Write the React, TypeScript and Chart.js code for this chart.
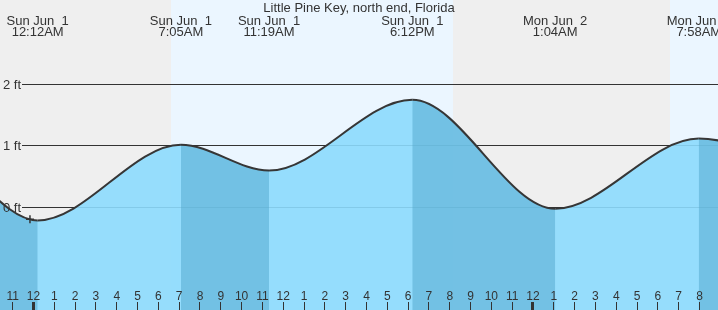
import React, { useEffect, useRef } from 'react';
import { Chart, registerables } from 'chart.js';

Chart.register(...registerables);

// ---- data (hours since Sun Jun 1 00:00 local time) ----
const TITLE = 'Little Pine Key, north end, Florida';

const tideHours = [-11.6, -5.3, 0.2, 7.083, 11.317, 18.2, 25.067, 31.967, 38.3];
const tideFeet = [0.35, 1.0, -0.21, 1.02, 0.6, 1.75, -0.02, 1.12, 0.4];

const extremeHours = [0.2, 7.083, 11.317, 18.2, 25.067, 31.967];
const extremeDays = ['Sun Jun  1', 'Sun Jun  1', 'Sun Jun  1', 'Sun Jun  1', 'Mon Jun  2', 'Mon Jun  2'];
const extremeTimes = ['12:12AM', '7:05AM', '11:19AM', '6:12PM', '1:04AM', '7:58AM'];

const dayStarts = [6.61, 30.59];
const dayEnds = [20.16, 44];

const tickHours = [-1, 0, 1, 2, 3, 4, 5, 6, 7, 8, 9, 10, 11, 12, 13, 14, 15, 16, 17, 18, 19, 20, 21, 22, 23, 24, 25, 26, 27, 28, 29, 30, 31, 32];
const tickLabels = ['11', '12', '1', '2', '3', '4', '5', '6', '7', '8', '9', '10', '11', '12', '1', '2', '3', '4', '5', '6', '7', '8', '9', '10', '11', '12', '1', '2', '3', '4', '5', '6', '7', '8'];
const midnightHours = [0, 24];

const levelFeet = [0, 1, 2];
const levelLabels = ['0 ft', '1 ft', '2 ft'];

const nowHours = [-0.17];
const nowFeet = [-0.19];

const X_MIN = -1.61;
const X_MAX = 32.89;
const Y_MIN = -1.667;
const Y_MAX = 3.374;

// ---- styles ----
const NIGHT = '#efefef';
const DAY = '#ebf6ff';
const LIGHT_FILL = 'rgba(140,218,253,0.9)';
const FALLING_OVERLAY = 'rgba(80,166,204,0.5)';
const INK = '#333333';
const FONT = '"Liberation Sans", Arial, sans-serif';

const paintPlugin = {
  id: 'tidePaint',
  beforeDraw(chart: any) {
    const { ctx, chartArea, scales } = chart;
    const x = scales.x;
    ctx.save();
    ctx.fillStyle = NIGHT;
    ctx.fillRect(0, 0, chart.width, chart.height);
    ctx.fillStyle = DAY;
    dayStarts.forEach((s, i) => {
      const x0 = Math.round(x.getPixelForValue(s));
      const x1 = Math.round(x.getPixelForValue(dayEnds[i]));
      ctx.fillRect(x0, chartArea.top, x1 - x0, chartArea.bottom - chartArea.top);
    });
    ctx.restore();
  },
  beforeDatasetsDraw(chart: any) {
    const { ctx, chartArea, scales } = chart;
    const y = scales.y;
    ctx.save();
    ctx.strokeStyle = INK;
    ctx.lineWidth = 1;
    levelFeet.forEach((v) => {
      const py = Math.floor(y.getPixelForValue(v)) + 0.5;
      ctx.beginPath();
      ctx.moveTo(22, py);
      ctx.lineTo(chartArea.right, py);
      ctx.stroke();
    });
    ctx.restore();
  },
  afterDraw(chart: any) {
    const { ctx, scales, chartArea } = chart;
    const x = scales.x;
    const y = scales.y;
    ctx.save();
    ctx.fillStyle = INK;
    // level labels
    ctx.font = '13px ' + FONT;
    ctx.textAlign = 'left';
    ctx.textBaseline = 'alphabetic';
    levelFeet.forEach((v, i) => {
      const py = Math.floor(y.getPixelForValue(v)) + 0.5;
      ctx.fillText(levelLabels[i], 3, py + 4.5);
    });
    // bottom hour ticks
    ctx.font = '12px ' + FONT;
    ctx.textAlign = 'center';
    tickHours.forEach((h, i) => {
      const px = x.getPixelForValue(h);
      const isMid = midnightHours.includes(h);
      if (isMid) {
        ctx.fillRect(Math.floor(px) - 1, chartArea.bottom - 8, 3, 8);
      } else {
        ctx.fillRect(Math.floor(px), chartArea.bottom - 8, 1, 8);
      }
      ctx.fillText(tickLabels[i], px, chartArea.bottom - 10);
    });
    // extreme labels
    ctx.font = '13px ' + FONT;
    extremeHours.forEach((h, i) => {
      const px = x.getPixelForValue(h);
      ctx.fillText(extremeDays[i], px, 25);
      ctx.fillText(extremeTimes[i], px, 36);
    });
    // title
    ctx.fillText(TITLE, chart.width / 2, 12);
    ctx.restore();
  },
};

export default function App() {
  const canvasRef = useRef<HTMLCanvasElement | null>(null);

  useEffect(() => {
    document.body.style.margin = '0';
    const canvas = canvasRef.current;
    if (!canvas) return;
    const tidePoints = tideHours.map((h, i) => ({ x: h, y: tideFeet[i] }));
    const chart = new Chart(canvas, {
      type: 'line',
      data: {
        datasets: [
          {
            type: 'scatter',
            data: nowHours.map((h, i) => ({ x: h, y: nowFeet[i] })),
            pointStyle: 'cross',
            pointRadius: 4,
            pointBorderColor: INK,
            pointBorderWidth: 1.5,
            pointBackgroundColor: INK,
            showLine: false,
            order: 0,
          } as any,
          {
            // falling-tide shading + the tide curve itself
            data: tidePoints,
            borderColor: '#363636',
            borderWidth: 2,
            backgroundColor: 'rgba(0,0,0,0)',
            fill: 'start',
            cubicInterpolationMode: 'monotone',
            pointRadius: 0,
            segment: {
              backgroundColor: (ctx: any) =>
                ctx.p1.parsed.y < ctx.p0.parsed.y ? FALLING_OVERLAY : 'rgba(0,0,0,0)',
            },
            order: 1,
          } as any,
          {
            // base water fill
            data: tidePoints,
            borderWidth: 0,
            borderColor: 'rgba(0,0,0,0)',
            backgroundColor: LIGHT_FILL,
            fill: 'start',
            cubicInterpolationMode: 'monotone',
            pointRadius: 0,
            order: 2,
          } as any,
        ],
      },
      options: {
        animation: false,
        responsive: false,
        events: [],
        layout: { padding: 0, autoPadding: false },
        plugins: {
          legend: { display: false },
          tooltip: { enabled: false },
          title: { display: false },
        },
        scales: {
          x: {
            type: 'linear',
            display: false,
            bounds: 'data',
            afterDataLimits: (s: any) => {
              s.min = X_MIN;
              s.max = X_MAX;
            },
          },
          y: {
            type: 'linear',
            display: false,
            bounds: 'data',
            min: Y_MIN,
            max: Y_MAX,
          },
        },
      } as any,
      plugins: [paintPlugin],
    });
    return () => chart.destroy();
  }, []);

  return (
    <div style={{ position: 'absolute', left: 0, top: 0, width: 718, height: 310 }}>
      <canvas ref={canvasRef} width={718} height={310} style={{ display: 'block', width: 718, height: 310 }} />
    </div>
  );
}
